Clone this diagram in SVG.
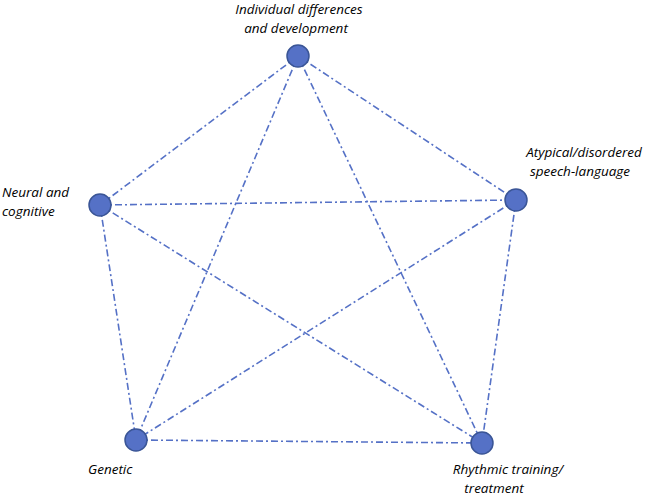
<svg xmlns="http://www.w3.org/2000/svg" width="649" height="498" viewBox="0 0 649 498">
<style>
.n{fill:#5571c6;stroke:#3a5596;stroke-width:1.5}
.c line{stroke:#5571c6;stroke-width:1.6;stroke-dasharray:7 3 2 3;fill:none}
text{font-family:"Open Sans","Liberation Sans",sans-serif;font-style:italic;font-size:13.5px;fill:#000}
</style>
<rect width="649" height="498" fill="#fff"/>
<g class="c">
<line x1="298" y1="56" x2="516" y2="200"/>
<line x1="298" y1="56" x2="100" y2="205"/>
<line x1="298" y1="56" x2="136" y2="440"/>
<line x1="298" y1="56" x2="482" y2="443"/>
<line x1="100" y1="205" x2="516" y2="200"/>
<line x1="100" y1="205" x2="136" y2="440"/>
<line x1="100" y1="205" x2="482" y2="443"/>
<line x1="516" y1="200" x2="136" y2="440"/>
<line x1="516" y1="200" x2="482" y2="443"/>
<line x1="136" y1="440" x2="482" y2="443"/>
</g>
<g id="individual"><circle class="n" cx="298" cy="56" r="11"/><text x="299" y="14" text-anchor="middle">Individual differences</text><text x="296" y="33" text-anchor="middle">and development</text></g>
<g id="atypical"><circle class="n" cx="516" cy="200" r="11"/><text x="584" y="157" text-anchor="middle">Atypical/disordered</text><text x="580" y="176" text-anchor="middle">speech-language</text></g>
<g id="neural"><circle class="n" cx="100" cy="205" r="11"/><text x="2" y="197">Neural and</text><text x="2" y="216">cognitive</text></g>
<g id="genetic"><circle class="n" cx="136" cy="440" r="11"/><text x="88" y="474">Genetic</text></g>
<g id="rhythmic"><circle class="n" cx="482" cy="443" r="11"/><text x="508" y="474" text-anchor="middle">Rhythmic training/</text><text x="494" y="493" text-anchor="middle">treatment</text></g>
</svg>
